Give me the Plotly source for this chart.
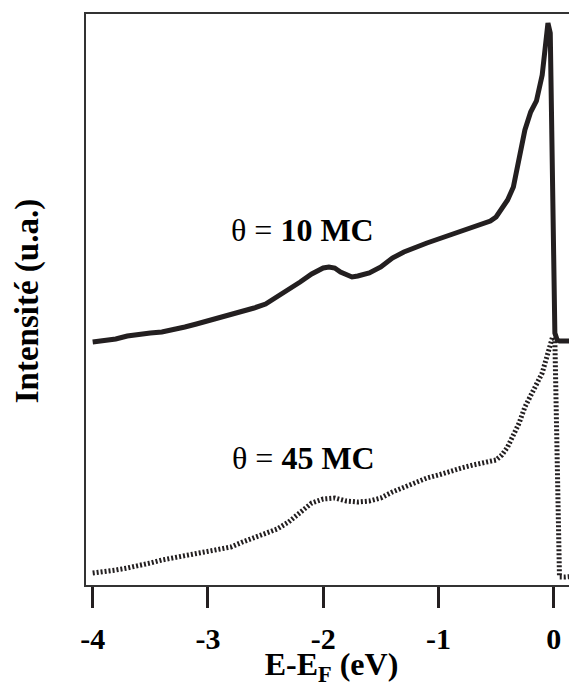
import plotly.graph_objects as go

# Energy (eV) and intensity (arb. units) for theta = 10 MC
energy_10 = [-4.0, -3.9, -3.8, -3.7, -3.6, -3.5, -3.4, -3.3, -3.2, -3.1, -3.0, -2.9, -2.8, -2.7,
             -2.6, -2.5, -2.4, -2.3, -2.2, -2.1, -2.0, -1.95, -1.9, -1.85, -1.8, -1.75, -1.7, -1.6,
             -1.5, -1.4, -1.3, -1.2, -1.1, -1.0, -0.9, -0.8, -0.7, -0.6, -0.55, -0.5, -0.45, -0.4,
             -0.35, -0.3, -0.25, -0.2, -0.15, -0.1, -0.07, -0.05, -0.03, -0.01, 0.01, 0.03, 0.05,
             0.1, 0.2]
intensity_10 = [243, 244, 246, 249, 251, 252, 253, 255, 258, 261, 264, 267, 270, 273,
                277, 281, 288, 295, 303, 311, 317, 318, 317, 313, 310, 308, 309, 312,
                318, 327, 333, 338, 342, 346, 350, 355, 359, 363, 364, 368, 376, 385,
                398, 425, 455, 473, 484, 510, 538, 562, 552, 420, 252, 245, 244,
                244, 244]

# Energy (eV) and intensity (arb. units) for theta = 45 MC
energy_45 = [-4.0, -3.9, -3.8, -3.7, -3.6, -3.5, -3.4, -3.3, -3.2, -3.1, -3.0, -2.9, -2.8, -2.7,
             -2.6, -2.5, -2.4, -2.3, -2.2, -2.1, -2.0, -1.9, -1.8, -1.7, -1.6, -1.5, -1.4, -1.3,
             -1.2, -1.1, -1.0, -0.9, -0.8, -0.7, -0.6, -0.5, -0.45, -0.4, -0.35, -0.3, -0.25,
             -0.2, -0.15, -0.1, -0.05, -0.01, 0.01, 0.03, 0.05, 0.1, 0.15, 0.2]
intensity_45 = [12, 13, 15, 17, 19, 22, 25, 27, 30, 32, 34, 36, 38, 43,
                47, 51, 56, 63, 72, 82, 86, 87, 84, 83, 84, 87, 93, 98,
                103, 107, 110, 114, 117, 120, 123, 125, 130, 138, 150, 162, 178,
                190, 200, 212, 232, 248, 245, 130, 8, 8, 9, 9]

x_ticks = [-4, -3, -2, -1, 0]
labels = ["θ = <b>10 MC</b>", "θ = <b>45 MC</b>"]
label_pos = [(-2.18, 355), (-2.17, 127)]

FONT = "Liberation Serif"
INK = "#231f20"

fig = go.Figure()
fig.add_trace(go.Scatter(x=energy_10, y=intensity_10, mode="lines",
                         line=dict(color=INK, width=5), showlegend=False))
fig.add_trace(go.Scatter(x=energy_45, y=intensity_45, mode="lines",
                         line=dict(color=INK, width=5, dash="2px,2px"), showlegend=False))

for txt, (lx, ly) in zip(labels, label_pos):
    fig.add_annotation(x=lx, y=ly, text=txt, showarrow=False,
                       font=dict(family=FONT, size=32, color="black"))

fig.add_annotation(xref="paper", yref="paper", x=-0.12, y=0.497, xanchor="center", yanchor="middle",
                   text="<b>Intensité (u.a.)</b>", textangle=-90, showarrow=False,
                   font=dict(family=FONT, size=33, color="black"))

# page body has an 8px default margin, so the figure is sized/offset to compensate
fig.update_layout(
    width=569, height=679,
    margin=dict(l=78, r=0, t=6, b=102),
    paper_bgcolor="white", plot_bgcolor="white",
    font=dict(family=FONT, color="black"),
    xaxis=dict(range=[-4.058, 0.202], tickvals=x_ticks,
               ticktext=[f"<b>{t}</b>" for t in x_ticks],
               ticks="outside", ticklen=21, tickwidth=3, tickcolor=INK,
               showline=True, linewidth=2, linecolor="#333", mirror=True,
               showgrid=False, zeroline=False, ticklabelstandoff=5,
               tickfont=dict(family=FONT, size=30, color="black"),
               title=dict(text="<b>E-E<sub>F</sub> (eV)</b>", standoff=3,
                          font=dict(family=FONT, size=32, color="black"))),
    yaxis=dict(range=[0, 571], showticklabels=False, ticks="",
               showline=True, linewidth=2, linecolor="#333", mirror=False,
               showgrid=False, zeroline=False),
)

fig.write_html("out.html")
